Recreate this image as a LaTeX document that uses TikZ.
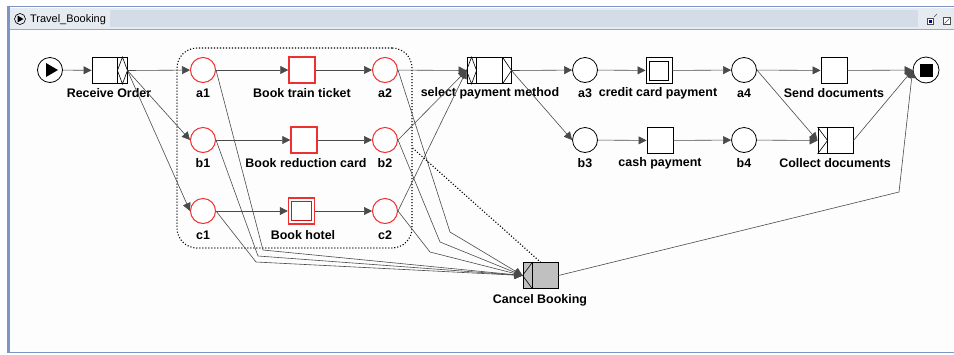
\documentclass[tikz,border=0pt]{standalone}
\usepackage{fontspec}
\setmainfont{Liberation Sans}
\usetikzlibrary{arrows.meta,calc}
\definecolor{edgegray}{HTML}{4A4A4A}
\definecolor{pred}{HTML}{F03030}
\definecolor{pdred}{HTML}{D01818}
\definecolor{cbgray}{HTML}{C0C0C0}
\definecolor{winblue}{HTML}{7C95C4}
\definecolor{titlebg}{HTML}{E6EBF2}
\definecolor{titledot}{HTML}{D4DCE8}
\definecolor{canvasbg}{HTML}{FCFDFC}
\begin{document}
\begin{tikzpicture}[x=1bp,y=-1bp,
  place/.style={circle,draw=black,fill=white,minimum size=25bp,inner sep=0pt,line width=0.8bp},
  rplace/.style={place,draw=pred,line width=1bp},
  task/.style={rectangle,draw=black,fill=white,minimum width=26bp,minimum height=26bp,inner sep=0pt,line width=0.9bp},
  rtask/.style={task,draw=pred,line width=1.4bp},
  lbl/.style={font=\bfseries\fontsize{12.5}{12.5}\selectfont,inner sep=0pt,anchor=center},
  flow/.style={draw=edgegray,line width=0.6bp,-{Triangle[length=8bp,width=8bp]}},
  deco/.style={draw=black,line width=0.6bp},
  region/.style={draw=black,line width=1.1bp,dash pattern=on 1.1bp off 1.9bp},
]
\useasboundingbox (0,0) rectangle (954,354);
% window chrome
\fill[white] (0,0) rectangle (954,354);
\fill[canvasbg] (10,30) rectangle (954,351);
\fill[titlebg] (10,8) rectangle (954,29);
\fill[titledot] (110,10) rectangle (918,27);
\draw[winblue,line width=3bp] (8.5,7) -- (8.5,353);
\draw[winblue,line width=1.5bp] (7,6.5) -- (954,6.5);
\draw[winblue,line width=1.5bp] (7,352.5) -- (954,352.5);
\draw[black!35,line width=0.6bp] (10,29.5) -- (954,29.5);
\node[circle,draw=black,line width=0.6bp,minimum size=11bp,inner sep=0pt] (ticon) at (20,19) {};
\fill ($(ticon)+(-2.5,-3.5)$) -- ($(ticon)+(-2.5,3.5)$) -- ($(ticon)+(3.5,0)$) -- cycle;
\node[anchor=west,font=\fontsize{11}{11}\selectfont,inner sep=0pt] (title) at (30,19.5) {Travel\_Booking};
\node[draw=black!70,fill=white,minimum size=6bp,inner sep=0pt] (min) at (930,21) {};
\fill[blue!50!black] ($(min)+(-1.5,-1.5)$) rectangle ($(min)+(1.5,1.5)$);
\draw[black!70] ($(min)+(4,-4)$) -- ($(min)+(7,-7)$);
\node[draw=black!70,fill=white,minimum size=7bp,inner sep=0pt] (max) at (947,21) {};
\draw[black!70] ($(max)+(-2.5,2.5)$) -- ($(max)+(2.5,-2.5)$);

% cancellation region
\node[region,rounded corners=20bp,minimum width=235bp,minimum height=200bp,inner sep=0pt] (reg) at (294.5,148) {};

% places and tasks
\node[place] (start) at (50,70) {};
\fill ($(start)+(-4,-7)$) -- ($(start)+(-4,7)$) -- ($(start)+(8,0)$) -- cycle;
\node[task,minimum width=35bp] (ro) at (109.5,70.5) {};
\draw[deco] ($(ro.north east)+(-10,0)$) -- ($(ro.south east)+(-10,0)$);
\draw[deco] ($(ro.north east)+(-5,0)$) -- (ro.east) -- ($(ro.south east)+(-5,0)$) -- ($(ro.east)+(-10,0)$) -- cycle;

\node[rplace] (a1) at (203,70) {};
\node[rplace] (b1) at (203,140) {};
\node[rplace] (c1) at (203,211) {};
\node[rtask] (btt) at (302,70) {};
\node[rtask] (brc) at (304,140) {};
\node[rtask] (bh) at (301.5,211) {};
\draw[pdred,line width=1.1bp] ($(bh.north west)+(4,4)$) rectangle ($(bh.south east)+(-4,-4)$);
\node[rplace] (a2) at (385,70) {};
\node[rplace] (b2) at (385,140) {};
\node[rplace] (c2) at (385,211) {};

\node[task,minimum width=44bp] (spm) at (489,70.5) {};
\draw[deco] ($(spm.north west)+(10,0)$) -- ($(spm.south west)+(10,0)$);
\draw[deco] ($(spm.north west)+(5,0)$) -- ($(spm.west)+(10,0)$) -- ($(spm.south west)+(5,0)$) -- (spm.west) -- cycle;
\draw[deco] ($(spm.north east)+(-9,0)$) -- ($(spm.south east)+(-9,0)$);
\draw[deco] ($(spm.north east)+(-9,0)$) -- (spm.east) -- ($(spm.south east)+(-9,0)$);

\node[place] (a3) at (585,70) {};
\node[place] (b3) at (585,140) {};
\node[task] (ccp) at (659,70.5) {};
\draw[black,line width=0.9bp] ($(ccp.north west)+(4,4)$) rectangle ($(ccp.south east)+(-4,-4)$);
\node[task] (cp) at (660,140.5) {};
\node[place] (a4) at (744,70) {};
\node[place] (b4) at (744,140) {};
\node[task] (sd) at (834,70.5) {};
\node[task,minimum width=35bp] (cd) at (835.5,140.5) {};
\draw[deco] ($(cd.north west)+(10,0)$) -- ($(cd.south west)+(10,0)$);
\draw[deco] (cd.north west) -- ($(cd.west)+(10,0)$) -- (cd.south west);
\node[place,minimum size=26bp] (end) at (926,70) {};
\fill ($(end)+(-6.5,-6.5)$) rectangle ($(end)+(6.5,6.5)$);

\node[task,fill=cbgray,minimum width=35bp] (cb) at (540.5,275.5) {};
\draw[deco] ($(cb.north west)+(10,0)$) -- ($(cb.south west)+(10,0)$);
\draw[deco] ($(cb.north west)+(10,0)$) -- (cb.west) -- ($(cb.south west)+(10,0)$);

% labels
\node[lbl] (l-ro) at (109,93) {Receive Order};
\node[lbl] (l-a1) at (203,93) {a1};
\node[lbl] (l-btt) at (302,93) {Book train ticket};
\node[lbl] (l-a2) at (385,93) {a2};
\node[lbl] (l-spm) at (490,93) {select payment method};
\node[lbl] (l-a3) at (585,93) {a3};
\node[lbl] (l-ccp) at (658,93) {credit card payment};
\node[lbl] (l-a4) at (744,93) {a4};
\node[lbl] (l-sd) at (834,93) {Send documents};
\node[lbl] (l-b1) at (203,163) {b1};
\node[lbl] (l-brc) at (306,163) {Book reduction card};
\node[lbl] (l-b2) at (385,163) {b2};
\node[lbl] (l-b3) at (585,163) {b3};
\node[lbl] (l-cp) at (660,163) {cash payment};
\node[lbl] (l-b4) at (744,163) {b4};
\node[lbl] (l-cd) at (835,163) {Collect documents};
\node[lbl] (l-c1) at (203,235) {c1};
\node[lbl] (l-bh) at (303,235) {Book hotel};
\node[lbl] (l-c2) at (385,235) {c2};
\node[lbl] (l-cb) at (540,300) {Cancel Booking};

% bend points
\coordinate (ka1) at (263,250);
\coordinate (kb1) at (258,256);
\coordinate (kc1) at (256,262);
\coordinate (ka2) at (450,232);
\coordinate (kb2) at (440,242);
\coordinate (kc2) at (430,252);
\coordinate (kcb) at (899,192);

% flows
\draw[flow] (start) -- (ro);
\draw[flow] (ro.east) -- (a1);
\draw[flow] (ro.east) -- (b1.west);
\draw[flow] (ro.east) -- (c1.west);
\draw[flow] (a1) -- (btt);
\draw[flow] (b1) -- (brc);
\draw[flow] (c1) -- (bh);
\draw[flow] (btt) -- (a2);
\draw[flow] (brc) -- (b2);
\draw[flow] (bh) -- (c2);
\draw[flow] (a2) -- (spm.west);
\draw[flow] (b2.east) -- (spm.west);
\draw[flow] (c2.east) -- (spm.west);
\draw[flow] (spm.east) -- (a3);
\draw[flow] (spm.east) -- (b3.west);
\draw[flow] (a3) -- (ccp);
\draw[flow] (ccp) -- (a4);
\draw[flow] (b3) -- (cp);
\draw[flow] (cp) -- (b4);
\draw[flow] (a4) -- (sd);
\draw[flow] (a4.east) -- (cd.west);
\draw[flow] (b4) -- (cd.west);
\draw[flow] (sd) -- (end);
\draw[flow] (cd.east) -- (end.west);
\draw[flow] (a1.east) -- (ka1) -- (cb.west);
\draw[flow] (b1.east) -- (kb1) -- (cb.west);
\draw[flow] (c1.east) -- (kc1) -- (cb.west);
\draw[flow] (a2.east) -- (ka2) -- (cb.west);
\draw[flow] (b2.east) -- (kb2) -- (cb.west);
\draw[flow] (c2.east) -- (kc2) -- (cb.west);
\draw[flow] (cb.east) -- (kcb) -- (end.west);
\draw[region] (reg.east) -- (cb.north);
\end{tikzpicture}
\end{document}
